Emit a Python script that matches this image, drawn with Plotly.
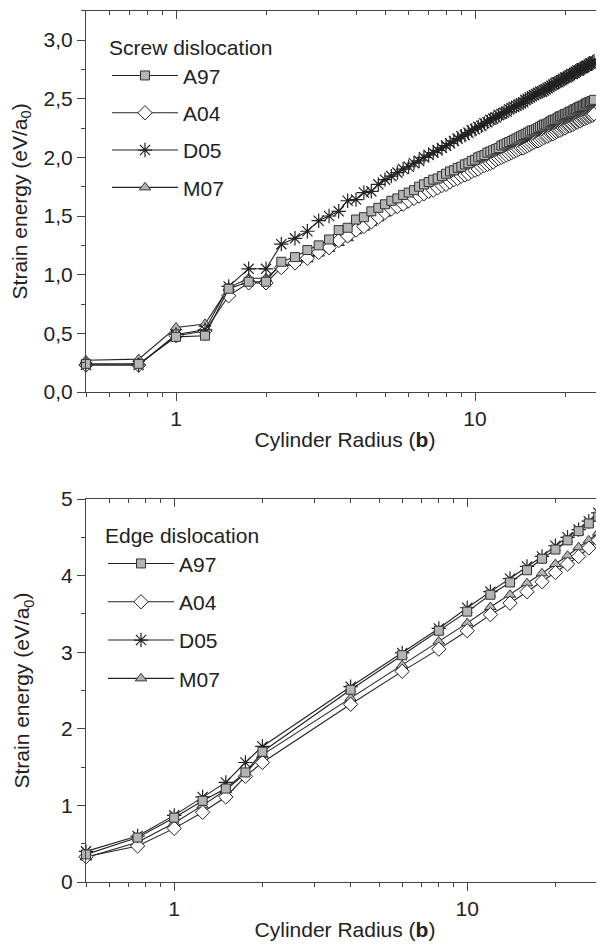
import plotly.graph_objects as go
import math

# ---------------- data: screw dislocation (top) ----------------
radius_screw = [0.5, 0.75, 1.0, 1.25, 1.5, 1.75, 2.0, 2.25, 2.5, 2.75, 3.0, 3.25, 3.5, 3.75, 4.0, 4.25, 4.5, 4.75, 5.0,
                5.25, 5.5, 5.75, 6.0, 6.25, 6.5, 6.75, 7.0, 7.25, 7.5, 7.75, 8.0, 8.25, 8.5, 8.75, 9.0, 9.25, 9.5, 9.75, 10.0,
                10.25, 10.5, 10.75, 11.0, 11.25, 11.5, 11.75, 12.0, 12.25, 12.5, 12.75, 13.0, 13.25, 13.5, 13.75, 14.0,
                14.25, 14.5, 14.75, 15.0, 15.25, 15.5, 15.75, 16.0, 16.25, 16.5, 16.75, 17.0, 17.25, 17.5, 17.75, 18.0,
                18.25, 18.5, 18.75, 19.0, 19.25, 19.5, 19.75, 20.0, 20.25, 20.5, 20.75, 21.0, 21.25, 21.5, 21.75, 22.0,
                22.25, 22.5, 22.75, 23.0, 23.25, 23.5, 23.75, 24.0, 24.25, 24.5, 24.75, 25.0]

screw_A97 = [0.24, 0.24, 0.47, 0.48, 0.88, 0.94, 0.94, 1.11, 1.15, 1.21, 1.25, 1.30, 1.38, 1.40, 1.47, 1.49, 1.54, 1.57, 1.60,
             1.63, 1.65, 1.68, 1.70, 1.72, 1.75, 1.77, 1.79, 1.81, 1.82, 1.84, 1.86, 1.88, 1.89, 1.91, 1.92, 1.94, 1.95, 1.97, 1.98,
             2.00, 2.01, 2.02, 2.04, 2.05, 2.06, 2.07, 2.08, 2.10, 2.11, 2.12, 2.13, 2.14, 2.15, 2.16, 2.17,
             2.18, 2.19, 2.20, 2.21, 2.22, 2.23, 2.23, 2.24, 2.25, 2.26, 2.27, 2.28, 2.28, 2.29, 2.30, 2.31,
             2.32, 2.32, 2.33, 2.34, 2.35, 2.35, 2.36, 2.37, 2.37, 2.38, 2.39, 2.39, 2.40, 2.41, 2.41, 2.42,
             2.43, 2.43, 2.44, 2.44, 2.45, 2.46, 2.46, 2.47, 2.47, 2.48, 2.48, 2.49]

screw_A04 = [0.23, 0.23, 0.48, 0.52, 0.82, 0.93, 0.93, 1.06, 1.10, 1.14, 1.19, 1.23, 1.29, 1.33, 1.38, 1.41, 1.45, 1.49, 1.53,
             1.56, 1.58, 1.60, 1.63, 1.65, 1.67, 1.69, 1.71, 1.72, 1.74, 1.76, 1.77, 1.79, 1.81, 1.82, 1.84, 1.85, 1.86, 1.88, 1.89,
             1.90, 1.92, 1.93, 1.94, 1.95, 1.96, 1.98, 1.99, 2.00, 2.01, 2.02, 2.03, 2.04, 2.05, 2.06, 2.07,
             2.08, 2.08, 2.09, 2.10, 2.11, 2.12, 2.13, 2.14, 2.14, 2.15, 2.16, 2.17, 2.18, 2.18, 2.19, 2.20,
             2.20, 2.21, 2.22, 2.23, 2.23, 2.24, 2.25, 2.25, 2.26, 2.27, 2.27, 2.28, 2.28, 2.29, 2.30, 2.30,
             2.31, 2.31, 2.32, 2.33, 2.33, 2.34, 2.34, 2.35, 2.35, 2.36, 2.36, 2.37]

screw_D05 = [0.23, 0.23, 0.49, 0.53, 0.90, 1.05, 1.05, 1.26, 1.31, 1.37, 1.46, 1.50, 1.54, 1.63, 1.64, 1.70, 1.71, 1.77, 1.81,
             1.84, 1.87, 1.90, 1.92, 1.95, 1.97, 2.00, 2.02, 2.04, 2.06, 2.08, 2.10, 2.12, 2.14, 2.16, 2.18, 2.19, 2.21, 2.23, 2.24,
             2.26, 2.27, 2.29, 2.30, 2.32, 2.33, 2.34, 2.36, 2.37, 2.38, 2.39, 2.41, 2.42, 2.43, 2.44, 2.45,
             2.46, 2.47, 2.49, 2.50, 2.51, 2.52, 2.53, 2.54, 2.55, 2.56, 2.56, 2.57, 2.58, 2.59, 2.60, 2.61,
             2.62, 2.63, 2.64, 2.64, 2.65, 2.66, 2.67, 2.68, 2.68, 2.69, 2.70, 2.71, 2.71, 2.72, 2.73, 2.74,
             2.74, 2.75, 2.76, 2.76, 2.77, 2.78, 2.78, 2.79, 2.80, 2.80, 2.81, 2.82]

screw_M07 = [0.27, 0.28, 0.55, 0.58, 0.89, 0.97, 0.97, 1.08, 1.10, 1.13, 1.18, 1.22, 1.27, 1.31, 1.37, 1.40, 1.44, 1.48, 1.52,
             1.55, 1.57, 1.59, 1.62, 1.64, 1.66, 1.68, 1.70, 1.72, 1.74, 1.75, 1.77, 1.79, 1.80, 1.82, 1.83, 1.85, 1.86, 1.88, 1.89,
             1.90, 1.92, 1.93, 1.94, 1.95, 1.96, 1.98, 1.99, 2.00, 2.01, 2.02, 2.03, 2.04, 2.05, 2.06, 2.07,
             2.08, 2.09, 2.10, 2.11, 2.12, 2.12, 2.13, 2.14, 2.15, 2.16, 2.17, 2.17, 2.18, 2.19, 2.20, 2.20,
             2.21, 2.22, 2.23, 2.23, 2.24, 2.25, 2.25, 2.26, 2.27, 2.27, 2.28, 2.29, 2.29, 2.30, 2.31, 2.31,
             2.32, 2.32, 2.33, 2.34, 2.34, 2.35, 2.35, 2.36, 2.36, 2.37, 2.37, 2.38]

# ---------------- data: edge dislocation (bottom) ----------------
radius_edge = [0.5, 0.75, 1.0, 1.25, 1.5, 1.75, 2.0, 4, 6, 8, 10, 12, 14, 16, 18, 20, 22, 24, 26, 28, 30]
edge_A97 = [0.36, 0.58, 0.84, 1.06, 1.22, 1.43, 1.70, 2.51, 2.96, 3.28, 3.53, 3.75, 3.91, 4.07, 4.22, 4.34, 4.46, 4.58, 4.68, 4.77, 4.88]
edge_A04 = [0.33, 0.47, 0.70, 0.91, 1.11, 1.38, 1.56, 2.32, 2.75, 3.04, 3.28, 3.49, 3.64, 3.79, 3.92, 4.04, 4.15, 4.25, 4.36, 4.46, 4.56]
edge_D05 = [0.40, 0.60, 0.87, 1.11, 1.30, 1.56, 1.77, 2.55, 2.99, 3.31, 3.58, 3.79, 3.96, 4.12, 4.25, 4.39, 4.50, 4.60, 4.71, 4.82, 4.93]
edge_M07 = [0.32, 0.52, 0.77, 1.00, 1.20, 1.42, 1.66, 2.40, 2.83, 3.14, 3.38, 3.59, 3.75, 3.90, 4.03, 4.15, 4.26, 4.37, 4.46, 4.56, 4.66]

series_names = ["A97", "A04", "D05", "M07"]
x_major = [1, 10]
x_minor = [0.5, 0.6, 0.7, 0.8, 0.9, 2, 3, 4, 5, 6, 7, 8, 9, 20, 30]

# ---------------- style ----------------
FONT = "Liberation Sans, Arial, sans-serif"
FS = 21
TXT = "#222222"
AX = "#444444"
GRAY = "#b4b4b4"
# the page body adds an 8px offset, so the figure is 8px smaller than the window
OFF = 8
W, H = 604 - OFF, 945 - OFF
L_M = 86 - OFF
PW = W - L_M

def fy(y_ref):
    return 1 - (y_ref - OFF) / H

def fx(x_ref):
    return (x_ref - OFF - L_M) / PW

styles = {
    "A97": dict(symbol="square", size=9, color=GRAY, line=dict(color="#333333", width=1)),
    "A04": dict(symbol="diamond", size=11, color="white", line=dict(color="#222222", width=1)),
    "D05": dict(symbol="asterisk-open", size=12, color="#222222", line=dict(color="#222222", width=1.2)),
    "M07": dict(symbol="triangle-up", size=10, color=GRAY, line=dict(color="#333333", width=1)),
}
rank = {"A97": 1, "A04": 2, "D05": 3, "M07": 4}
draw_order = ["M07", "A04", "D05", "A97"]

top_data = {"A97": screw_A97, "A04": screw_A04, "D05": screw_D05, "M07": screw_M07}
bot_data = {"A97": edge_A97, "A04": edge_A04, "D05": edge_D05, "M07": edge_M07}

fig = go.Figure()
for name in draw_order:
    fig.add_trace(go.Scatter(
        x=radius_screw, y=top_data[name], name=name, mode="lines+markers",
        line=dict(color="#222222", width=1.1), marker=styles[name],
        xaxis="x", yaxis="y", legend="legend", legendgroup="t" + name,
        legendrank=rank[name], cliponaxis=False))
for name in draw_order:
    fig.add_trace(go.Scatter(
        x=radius_edge, y=bot_data[name], name=name, mode="lines+markers",
        line=dict(color="#222222", width=1.1), marker=styles[name],
        xaxis="x2", yaxis="y2", legend="legend2", legendgroup="b" + name,
        legendrank=rank[name], cliponaxis=False))

# helper invisible traces so the mirrored (inside-tick) axes render
fig.add_trace(go.Scatter(x=radius_screw, y=screw_A97, xaxis="x3", yaxis="y3", mode="markers",
                         marker=dict(opacity=0), showlegend=False, hoverinfo="skip"))
fig.add_trace(go.Scatter(x=radius_edge, y=edge_A97, xaxis="x4", yaxis="y4", mode="markers",
                         marker=dict(opacity=0), showlegend=False, hoverinfo="skip"))

top_dom = [fy(392), fy(10.7)]
bot_dom = [fy(882), fy(499)]
xr_top = [math.log10(0.5), math.log10(27.0)]
xr_bot = [math.log10(0.5), math.log10(29.3)]

tickfont = dict(family=FONT, size=FS, color=TXT)

def xaxis_main(rng, anchor, standoff):
    return dict(type="log", range=rng, anchor=anchor, domain=[0, 1],
                tickmode="array", tickvals=x_major, ticktext=[str(v) for v in x_major],
                ticks="outside", ticklen=8, tickwidth=1, tickcolor=AX,
                minor=dict(tickmode="array", tickvals=x_minor, ticks="outside", ticklen=4, tickwidth=1, tickcolor=AX),
                showline=True, linecolor=AX, linewidth=1.2, showgrid=False, zeroline=False,
                tickfont=tickfont, automargin=False,
                title=dict(text="Cylinder Radius (<b>b</b>)", font=dict(family=FONT, size=FS, color=TXT), standoff=standoff))

def xaxis_mirror(rng, over, anchor):
    return dict(type="log", range=rng, overlaying=over, anchor=anchor, side="top",
                tickmode="array", tickvals=x_major, showticklabels=False,
                ticks="inside", ticklen=8, tickwidth=1, tickcolor=AX,
                minor=dict(tickmode="array", tickvals=x_minor, ticks="inside", ticklen=4, tickwidth=1, tickcolor=AX),
                showline=True, linecolor=AX, linewidth=1.2, showgrid=False, zeroline=False)

def yaxis_main(rng, dom, anchor, dtick, fmt, minor_dtick, standoff):
    return dict(range=rng, domain=dom, anchor=anchor, dtick=dtick, tick0=0, tickformat=fmt,
                ticks="outside", ticklen=8, tickwidth=1, tickcolor=AX,
                minor=dict(dtick=minor_dtick, tick0=0, ticks="outside", ticklen=4, tickwidth=1, tickcolor=AX),
                showline=True, linecolor=AX, linewidth=1.2, showgrid=False, zeroline=False,
                tickfont=tickfont, automargin=False,
                title=dict(text="Strain energy (eV/a<sub>0</sub>)", font=dict(family=FONT, size=FS, color=TXT), standoff=standoff))

def yaxis_mirror(rng, over, anchor, dtick, minor_dtick):
    return dict(range=rng, overlaying=over, anchor=anchor, side="right", dtick=dtick, tick0=0,
                showticklabels=False, ticks="inside", ticklen=8, tickwidth=1, tickcolor=AX,
                minor=dict(dtick=minor_dtick, tick0=0, ticks="inside", ticklen=4, tickwidth=1, tickcolor=AX),
                showline=False, showgrid=False, zeroline=False)

legend_common = dict(xanchor="left", yanchor="top", bgcolor="rgba(0,0,0,0)", borderwidth=0,
                     font=dict(family=FONT, size=FS, color=TXT), itemwidth=66,
                     traceorder="grouped")

fig.update_layout(
    width=W, height=H,
    margin=dict(l=L_M, r=0, t=0, b=0),
    paper_bgcolor="white", plot_bgcolor="white",
    separators=", ",
    font=dict(family=FONT, size=FS, color=TXT),
    xaxis=xaxis_main(xr_top, "y", 3),
    yaxis=yaxis_main([0, 3.25], top_dom, "x", 0.5, ".1f", 0.25, 11),
    xaxis2=xaxis_main(xr_bot, "y2", 3),
    yaxis2=yaxis_main([0, 5], bot_dom, "x2", 1, "d", 0.5, 25),
    xaxis3=xaxis_mirror(xr_top, "x", "y"),
    yaxis3=yaxis_mirror([0, 3.25], "y", "x", 0.5, 0.25),
    xaxis4=xaxis_mirror(xr_bot, "x2", "y2"),
    yaxis4=yaxis_mirror([0, 5], "y2", "x2", 1, 0.5),
    legend=dict(x=fx(107), y=fy(28), tracegroupgap=7,
                title=dict(text="Screw dislocation", font=dict(family=FONT, size=FS, color=TXT)),
                **legend_common),
    legend2=dict(x=fx(103), y=fy(516), tracegroupgap=8,
                 title=dict(text="Edge dislocation", font=dict(family=FONT, size=FS, color=TXT)),
                 **legend_common),
    showlegend=True,
)

fig.write_html("out.html")
